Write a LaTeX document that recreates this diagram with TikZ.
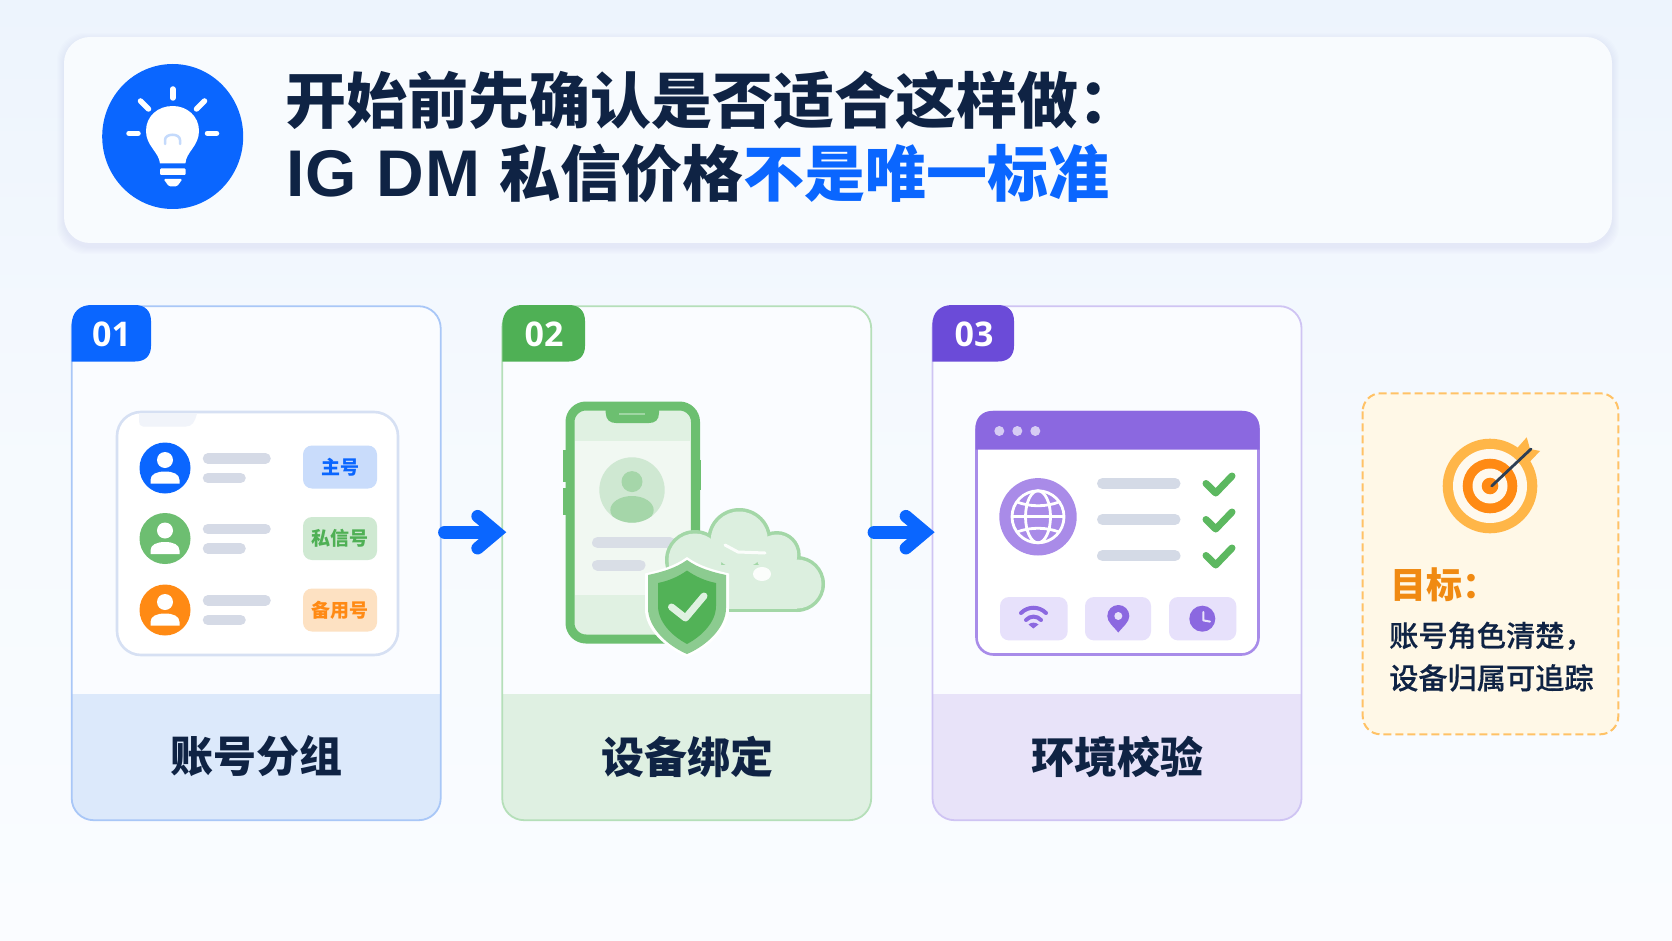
\documentclass[tikz,border=0pt]{standalone}
\usepackage{fontspec}
\setmainfont{Noto Sans CJK SC}
\newfontfamily\cjkmed{Noto Sans CJK SC Medium}[FakeBold=0.35]
\newfontfamily\latinb{Liberation Sans}[LetterSpace=2.0]
\newfontfamily\digitfont{Open Sans}
\usetikzlibrary{arrows.meta,calc}
\definecolor{ink}{HTML}{0F2344}
\definecolor{bluemain}{HTML}{0A66FF}
\definecolor{greenmain}{HTML}{4FB055}
\definecolor{purplemain}{HTML}{6B4BD8}
\definecolor{orangemain}{HTML}{FF8A14}
\definecolor{greyline}{HTML}{D5DAE6}
\definecolor{wpurple}{HTML}{8B68E0}
\definecolor{cardwhite}{HTML}{FAFCFF}
\definecolor{tilebg}{HTML}{E7E1FB}
\newcommand{\dc}[1]{\definecolor{#1}{HTML}{#1}}
\dc{EDF4FD}\dc{FAFCFF}\dc{F6FAFE}\dc{F8FBFE}\dc{C4DAFC}\dc{A9C7F7}\dc{DCE9FB}\dc{B5DFB9}\dc{DFF0E2}\dc{CFC4F3}\dc{E8E3F9}
\dc{D6E0F3}\dc{F1F4FA}\dc{6DBE71}\dc{C9DCFB}\dc{CFE9D2}\dc{FDE1C2}\dc{6CBF70}\dc{E0F1E2}\dc{F1F8F2}\dc{9FD6A3}\dc{CFE8D2}
\dc{A5D6A9}\dc{D9DEE6}\dc{A3D7A7}\dc{DCEFDF}\dc{8CCB90}\dc{52B257}\dc{DFF2E1}\dc{A88CE9}\dc{D6CCF4}\dc{A98BE8}\dc{D4DAE6}
\dc{5CB860}\dc{E9E3FB}\dc{FFC266}\dc{FFF8E7}\dc{FFB648}\dc{FFF9EE}\dc{2C3E55}\dc{F08A12}
\newcommand{\fs}[1]{\fontsize{#1}{#1}\selectfont}
\tikzset{
  cardbox/.style n args={2}{draw=#1,line width=1.8pt,fill=cardwhite,rounded corners=22pt,inner sep=0pt,
    minimum width=369pt,minimum height=514pt,
    path picture={\fill[#2,sharp corners] ([yshift=126pt]path picture bounding box.south west) rectangle (path picture bounding box.south east);}},
  badgetext/.style={text=white,font=\digitfont\bfseries\fs{34},inner sep=0pt},
  cardtitle/.style={text=ink,font=\bfseries\fs{43},inner sep=0pt},
  tagbox/.style={rounded corners=9pt,minimum width=74pt,minimum height=43pt,inner sep=0pt,font=\bfseries\fs{19}},
  skel/.style={line cap=round,line width=10.5pt,draw=greyline},
  flowarrow/.style={draw=bluemain,line width=13pt,-{Straight Barb[length=19pt,width=32pt,line width=12.5pt,line cap=round,line join=miter]},line cap=round,shorten >=3pt},
  check/.style={line cap=round,line join=round,line width=7pt,draw=#1},
  tile/.style={fill=tilebg,rounded corners=9pt},
}
\newcommand{\personicon}[3]{%
  \begin{scope}[shift={(#1,#2)}]
    \fill[#3] (0,0) circle[radius=25.5pt];
    \fill[white] (0,-8) circle[radius=8pt];
    \fill[white] (-14.5,15.5) -- (-14.5,12) .. controls (-14.5,6) and (-8,3.5) .. (0,3.5) .. controls (8,3.5) and (14.5,6) .. (14.5,12) -- (14.5,15.5) -- cycle;
  \end{scope}}
\newcommand{\skelrow}[1]{%
  \draw[skel] (208,#1-9.5) -- (265.5,#1-9.5);
  \draw[skel] (208,#1+10) -- (240.5,#1+10);}
\newcommand{\badge}[3]{% left, right, colour
  \fill[#3] (#1,361.5) -- (#1,325) .. controls (#1,312) and (#1+8,305) .. (#1+20,305) -- (#2-16,305)
    .. controls (#2-6,305) and (#2,311) .. (#2,321) -- (#2,346) .. controls (#2,356) and (#2-6,361.5) .. (#2-16,361.5) -- cycle;}
\begin{document}
\begin{tikzpicture}[x=1pt,y=-1pt]
\useasboundingbox (0,0) rectangle (1672,941);
\shade[top color=EDF4FD,bottom color=FAFCFF,middle color=F6FAFE] (0,0) rectangle (1672,941);
% header panel
\foreach \g in {1,...,7}{\fill[blue!40!gray,opacity=.012,rounded corners=28pt] (64-\g,37+3-\g) rectangle (1612+\g,243+4+\g);}
\fill[F8FBFE,rounded corners=26pt] (64,37) rectangle (1612,243);
% bulb
\fill[bluemain] (172.7,136.5) ellipse[x radius=70.5pt,y radius=72.5pt];
\begin{scope}[draw=white,line width=5.5pt,line cap=round]
  \draw (172.8,89) -- (172.8,98);
  \draw (140.5,101) -- (148.5,109);
  \draw (204.5,101) -- (196.5,109);
  \draw (129,133.3) -- (138,133.3);
  \draw (207.5,133.3) -- (216.5,133.3);
\end{scope}
\fill[white] (160,163.5) .. controls (159,152) and (146,146) .. (146,131) .. controls (146,116) and (158,106) .. (172.7,106) .. controls (187,106) and (199,116) .. (199,131) .. controls (199,146) and (186,152) .. (185.4,163.5) -- cycle;
\fill[white,rounded corners=1pt] (160,168.5) rectangle (185.5,175);
\fill[white,rounded corners=1.5pt] (163.5,179) -- (182.5,179) -- (177,186.5) -- (169,186.5) -- cycle;
\draw[C4DAFC,line width=2.5pt,line cap=round] (165,144) -- (165,140) .. controls (165,133) and (180,133) .. (180,140) -- (180,144);
% title
\node[anchor=base west,inner sep=0pt,text=ink,font=\bfseries\fs{61}] (title1) at (285,124) {开始前先确认是否适合这样做：};
\node[anchor=base west,inner sep=0pt,text=ink,font=\bfseries\fs{61}] (title2) at (285,196.5) {\makebox[214pt][l]{\hspace{1pt}\latinb\bfseries\fs{66}IG DM}私信价格{\color{bluemain}不是唯一标准}};
% cards
\node[cardbox={A9C7F7}{DCE9FB}] (card1) at (256.2,563.2) {};
\node[cardbox={B5DFB9}{DFF0E2}] (card2) at (686.7,563.2) {};
\node[cardbox={CFC4F3}{E8E3F9}] (card3) at (1117,563.2) {};
\badge{71.7}{151}{bluemain}
\badge{502.3}{585}{greenmain}
\badge{932.3}{1014}{purplemain}
\node[badgetext] (b1) at (111.5,334) {01};
\node[badgetext] (b2) at (544,334) {02};
\node[badgetext] (b3) at (974,334) {03};
\node[cardtitle] (t1) at (256.7,756.5) {账号分组};
\node[cardtitle] (t2) at (687.5,756.5) {设备绑定};
\node[cardtitle] (t3) at (1117.5,756.5) {环境校验};
% arrows
\draw[flowarrow] ([shift={(3pt,31pt)}]card1.east) -- ([shift={(8pt,31pt)}]card2.west);
\draw[flowarrow] ([shift={(2pt,31pt)}]card2.east) -- ([shift={(6pt,31pt)}]card3.west);
% account panel
\draw[draw=D6E0F3,fill=white,line width=2.6pt,rounded corners=24pt] (117,412) rectangle (398,655);
\fill[F1F4FA] (139,413.3) -- (197,413.3) .. controls (195,422) and (192,426.5) .. (186,426.5) -- (143,426.5) .. controls (140,426.5) and (139,424) .. (139,421) -- cycle;
\personicon{165}{468}{bluemain}
\personicon{165}{538.5}{6DBE71}
\personicon{165}{610}{orangemain}
\skelrow{468}
\skelrow{538.5}
\skelrow{610}
\node[tagbox,fill=C9DCFB,text=bluemain] (tag1) at (340,467) {主号};
\node[tagbox,fill=CFE9D2,text=greenmain] (tag2) at (340,538.5) {私信号};
\node[tagbox,fill=FDE1C2,text=orangemain] (tag3) at (340,610) {备用号};
% phone
\fill[6CBF70] (563,450) rectangle (567,482);
\fill[6CBF70] (563,488) rectangle (567,515);
\fill[6CBF70] (698,460) rectangle (701,490);
\draw[draw=6CBF70,fill=E0F1E2,line width=9pt,rounded corners=16pt] (570,406) rectangle (695.5,639);
\fill[F1F8F2] (575,441) rectangle (690,595);
\fill[6CBF70] (605.7,408) -- (605.7,413) .. controls (606,420) and (610,423) .. (616,423) -- (649,423) .. controls (655,423) and (659,420) .. (659,413) -- (659,408) -- cycle;
\draw[9FD6A3,line width=2pt] (619,414) -- (645,414);
\fill[CFE8D2] (632,490) circle[radius=32.7pt];
\fill[A5D6A9] (632,481.6) circle[radius=10.5pt];
\begin{scope}
  \clip (632,490) circle[radius=32.7pt];
  \fill[A5D6A9] (632,510) ellipse[x radius=21.7pt,y radius=14pt];
\end{scope}
\draw[line cap=round,line width=11pt,D9DEE6] (597.5,542.6) -- (670,542.6);
\draw[line cap=round,line width=11pt,D9DEE6] (597.5,565) -- (640,565);
% cloud
\foreach \c/\r in {{(739.3,540)}/32,{(695,560)}/30,{(776.7,555)}/24,{(797,584)}/28}{\fill[A3D7A7] \c circle[radius=\r pt];}
\fill[A3D7A7] (695,585) rectangle (797,612);
\foreach \c/\r in {{(739.3,540)}/28.5,{(695,560)}/26.5,{(776.7,555)}/20.5,{(797,584)}/24.5}{\fill[DCEFDF] \c circle[radius=\r pt];}
\fill[DCEFDF] (672,565) rectangle (797,608.5);
\draw[white,line width=3pt,line cap=round,line join=round,opacity=.9] (725,545) -- (738,552) -- (765,553);
\fill[white,opacity=.9] (762,574) ellipse[x radius=9pt,y radius=7pt];
% shield
\fill[white] (687,557) .. controls (699,566) and (714,570) .. (729,573.5) -- (729,609) .. controls (729,630) and (708,648) .. (687,657) .. controls (666,648) and (645,630) .. (645,609) -- (645,573.5) .. controls (660,570) and (675,566) .. (687,557) -- cycle;
\fill[8CCB90] (687,560) .. controls (698,568) and (712,572) .. (726,575) -- (726,608) .. controls (726,628) and (706,646) .. (687,654) .. controls (668,646) and (648,628) .. (648,608) -- (648,575) .. controls (662,572) and (676,568) .. (687,560) -- cycle;
\fill[52B257] (687,570.5) .. controls (696,577) and (706,581) .. (716,583) -- (716,606) .. controls (716,622) and (702,636) .. (687,644) .. controls (672,636) and (658,622) .. (658,606) -- (658,583) .. controls (668,581) and (678,577) .. (687,570.5) -- cycle;
\draw[DFF2E1,line width=7pt,line cap=round,line join=round] (671.5,607) -- (685.5,618) -- (704,596);
% browser window
\draw[draw=A88CE9,fill=white,line width=2.6pt,rounded corners=17pt] (976.5,412) rectangle (1258.5,654.5);
\fill[wpurple] (975.5,449.5) -- (975.5,428) .. controls (975.5,418) and (982,411) .. (992,411) -- (1243,411) .. controls (1253,411) and (1259.5,418) .. (1259.5,428) -- (1259.5,449.5) -- cycle;
\foreach \x in {999.3,1017.3,1035.3}{\fill[D6CCF4] (\x,431) circle[radius=5pt];}
\fill[A98BE8] (1038,516.8) circle[radius=38.7pt];
\begin{scope}[draw=white,line width=2.8pt]
  \draw (1038,516.8) circle[radius=26pt];
  \draw (1038,516.8) ellipse[x radius=12.5pt,y radius=26pt];
  \draw (1012,516.8) -- (1064,516.8);
  \draw (1017,502) .. controls (1030,507) and (1046,507) .. (1059,502);
  \draw (1017,532) .. controls (1030,527) and (1046,527) .. (1059,532);
\end{scope}
\foreach \y in {483.4,519.5,555.7}{\draw[line cap=round,line width=11pt,D4DAE6] (1102.5,\y) -- (1175,\y);}
\foreach \y in {0,36,72}{\draw[check=5CB860] (1206,483.5+\y) -- (1215.7,493+\y) -- (1232,476+\y);}
\fill[tile] (1000,597) rectangle (1067.7,640.4);
\fill[tile] (1085,597) rectangle (1151,640.4);
\fill[tile] (1169,597) rectangle (1236.3,640.4);
\draw[wpurple,line width=4pt,line cap=round] (1021,613) .. controls (1028,606) and (1039,606) .. (1046,613);
\draw[wpurple,line width=4pt,line cap=round] (1026,620) .. controls (1030,615.5) and (1037,615.5) .. (1041,620);
\fill[wpurple] (1033.3,628.5) -- (1028.5,624.5) .. controls (1031,622) and (1036,622) .. (1038.5,624.5) -- cycle;
\fill[wpurple] (1118.3,632.5) .. controls (1113,626) and (1107.3,622) .. (1107.3,616) .. controls (1107.3,610) and (1112,605) .. (1118.3,605) .. controls (1124.5,605) and (1129.3,610) .. (1129.3,616) .. controls (1129.3,622) and (1123.5,626) .. (1118.3,632.5) -- cycle;
\fill[tilebg] (1118.3,616) circle[radius=4pt];
\fill[wpurple] (1202.3,618.7) circle[radius=13pt];
\draw[E9E3FB,line width=2pt,line cap=round,line join=round] (1203.3,612) -- (1203.3,620.4) -- (1210,621.6);
% goal box
\draw[draw=FFC266,fill=FFF8E7,line width=2pt,dash pattern=on 8pt off 4pt,rounded corners=18pt] (1362.7,393.3) rectangle (1618.3,734.3);
\fill[FFB648] (1490,486) circle[radius=47.3pt];
\fill[FFF9EE] (1490,486) circle[radius=37pt];
\fill[orangemain] (1490,486) circle[radius=27.3pt];
\fill[FFF9EE] (1490,486) circle[radius=17.5pt];
\fill[orangemain] (1490,486) circle[radius=8.3pt];
\fill[FFB648] (1514,451.7) -- (1526.7,437.3) -- (1530,449) -- (1540,451) -- (1526.7,465) -- (1518,463) -- cycle;
\draw[2C3E55,line width=2.8pt,line cap=round] (1491.7,486) -- (1531,449);
\node[anchor=base west,inner sep=0pt,text=F08A12,font=\bfseries\fs{36}] (goal) at (1390,598) {目标：};
\node[anchor=base west,inner sep=0pt,text=ink,font=\cjkmed\fs{29.2}] (goal1) at (1389,646.5) {账号角色清楚，};
\node[anchor=base west,inner sep=0pt,text=ink,font=\cjkmed\fs{29.2}] (goal2) at (1389,689) {设备归属可追踪};
\end{tikzpicture}
\end{document}
